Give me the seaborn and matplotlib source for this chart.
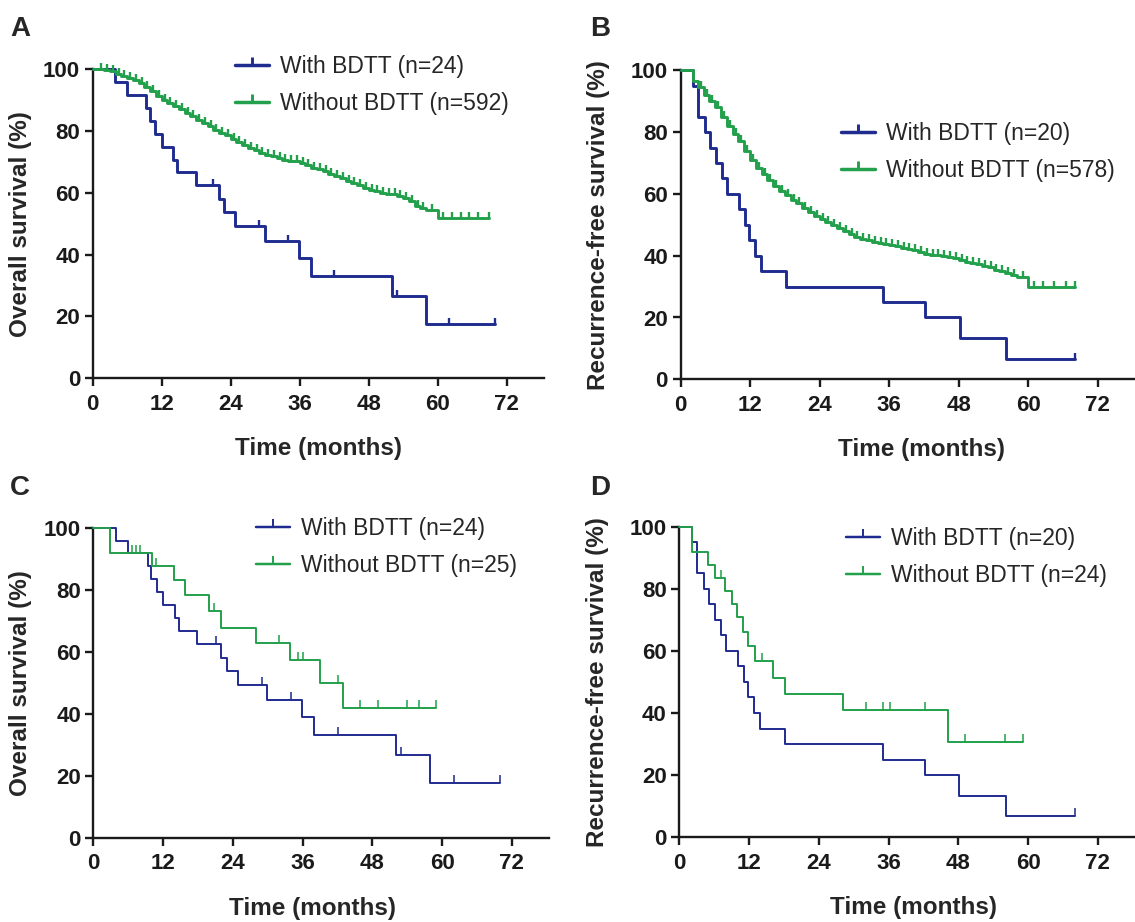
import numpy as np
import matplotlib
matplotlib.use("Agg")
import matplotlib.pyplot as plt
from matplotlib.path import Path
from matplotlib.lines import Line2D
import seaborn as sns

# ===== DATA =====
# Overall survival, with BDTT (n=24) - same group in panels A and C
os_with_t = [0, 3.8, 5.9, 9.3, 9.9, 10.9, 12.0, 14.0, 14.7, 17.9, 22.0, 22.9,
             24.8, 29.9, 35.9, 38.0, 52.0, 57.9, 70.0]
os_with_s = [100, 95.8, 91.7, 87.5, 83.3, 79.2, 75.0, 70.8, 66.7, 62.5, 58.1, 53.8,
             49.2, 44.3, 38.8, 33.2, 26.6, 17.7, 17.7]
os_with_cens = [21.0, 29.0, 34.0, 42.0, 53.0, 62.0, 70.0]

# Overall survival, without BDTT (n=592) - panel A
osA_wo_t = [0, 2, 3, 4, 5, 6, 7, 8, 9, 10, 11, 12, 13, 14, 15, 16, 17, 18, 19, 20,
            21, 22, 23, 24, 25, 26, 27, 28, 29, 30, 31, 32, 33, 34, 35, 36, 37, 38, 39, 40,
            41, 42, 43, 44, 45, 46, 47, 48, 49, 50, 51, 52, 53, 54, 55, 56, 57, 58, 60, 69]
osA_wo_s = [100, 99.7, 99.3, 98.6, 97.9, 97.3, 96.5, 95.6, 94.4, 93.0, 91.4, 90.0, 89.0, 88.0, 87.0, 86.0, 84.8, 83.7, 82.6, 81.5,
            80.5, 79.5, 78.6, 77.6, 76.6, 75.6, 74.6, 73.8, 73.0, 72.4, 71.8, 71.2, 70.8, 70.4, 70.2, 69.8, 69.0, 68.2, 67.6, 67.0,
            66.2, 65.5, 64.8, 64.0, 63.2, 62.4, 61.7, 61.0, 60.5, 60.0, 59.8, 59.5, 59.0, 58.2, 57.4, 55.8, 55.0, 54.4, 51.8, 51.8]
osA_wo_cens = [1.5, 2.5, 3.5, 4.5, 5.5, 6.5, 7.5, 8.5, 9.5, 10.5, 11.5, 12.5, 13.5, 14.5,
               15.5, 16.5, 17.5, 18.5, 19.5, 20.5, 21.5, 22.5, 23.5, 24.5, 25.5, 26.5, 27.5,
               28.5, 29.5, 30.5, 31.5, 32.5, 33.5, 34.5, 35.5, 36.5, 37.5, 38.5, 39.5, 40.5,
               41.5, 42.5, 43.5, 44.5, 45.5, 46.5, 47.5, 48.5, 49.5, 50.5, 51.5, 52.5, 53.5,
               54.5, 55.5, 56.5, 57.5, 59, 61, 62.5, 64, 65.5, 67, 69]

# Recurrence-free survival, with BDTT (n=20) - same group in panels B and D
rfs_with_t = [0, 2.2, 3.0, 4.2, 5.1, 6.2, 7.1, 8.0, 10.1, 11.1, 11.9, 12.8, 13.8,
              18.2, 35.0, 42.2, 48.2, 56.2, 68.0]
rfs_with_s = [100, 95, 85, 80, 75, 70, 65, 60, 55, 50, 45, 40, 35,
              30, 25, 20, 13.3, 6.7, 6.7]
rfs_with_cens = [68.0]

# Recurrence-free survival, without BDTT (n=578) - panel B
rfsB_wo_t = [0, 2.2, 3, 4, 5, 6, 7, 8, 9, 10, 11, 12, 13, 14, 15, 16, 17, 18, 19, 20,
             21, 22, 23, 24, 25, 26, 27, 28, 29, 30, 31, 32, 33, 34, 35, 36, 37, 38, 39, 40,
             41, 42, 43, 44, 45, 46, 47, 48, 49, 50, 51, 52, 53, 54, 55, 56, 57, 58, 60, 68]
rfsB_wo_s = [100, 96.5, 94.5, 92.0, 90.0, 88.0, 85.0, 82.0, 79.5, 77.0, 74.0, 71.0, 68.5, 66.5, 64.5, 62.5, 61.0, 59.5, 58.0, 57.0,
             55.5, 54.0, 53.0, 52.0, 51.0, 50.0, 49.0, 48.0, 47.0, 46.0, 45.5, 45.0, 44.5, 44.0, 43.7, 43.4, 43.0, 42.5, 42.2, 41.8,
             41.2, 40.6, 40.3, 40.1, 40.0, 39.6, 39.2, 38.5, 38.0, 37.5, 37.2, 36.8, 36.2, 35.5, 35.0, 34.5, 33.6, 33.2, 30.0, 30.0]
rfsB_wo_cens = [3.5, 4.5, 5.5, 6.5, 7.5, 8.5, 9.5, 10.5, 11.5, 12.5, 13.5, 14.5,
                15.5, 16.5, 17.5, 18.5, 19.5, 20.5, 21.5, 22.5, 23.5, 24.5, 25.5, 26.5, 27.5,
                28.5, 29.5, 30.5, 31.5, 32.5, 33.5, 34.5, 35.5, 36.5, 37.5, 38.5, 39.5, 40.5,
                41.5, 42.5, 43.5, 44.5, 45.5, 46.5, 47.5, 48.5, 49.5, 50.5, 51.5, 52.5, 53.5,
                54.5, 55.5, 56.5, 57.5, 59, 61, 62.5, 64.5, 66.5, 68]

# Overall survival, without BDTT (n=25) - panel C
osC_wo_t = [0, 2.8, 10.0, 13.9, 15.8, 19.9, 22.0, 27.9, 33.9, 39.0, 43.0, 59.0]
osC_wo_s = [100, 92.0, 87.6, 83.1, 78.3, 73.2, 67.8, 62.9, 57.2, 50.0, 41.7, 41.7]
osC_wo_cens = [6.6, 7.3, 8.0, 10.8, 20.8, 31.9, 35.2, 36.0, 42.1, 45.9, 49.0, 54.0, 56.0, 59.0]

# Recurrence-free survival, without BDTT (n=24) - panel D
rfsD_wo_t = [0, 2.2, 5.0, 6.2, 7.9, 9.0, 10.0, 11.0, 11.9, 13.0, 16.1, 18.2, 28.2, 46.2, 59.2]
rfsD_wo_s = [100, 91.7, 87.5, 83.3, 79.2, 75.0, 70.8, 66.2, 61.5, 56.9, 51.2, 46.2, 41.0, 30.8, 30.8]
rfsD_wo_cens = [7.1, 14.2, 32.1, 35.1, 36.2, 42.2, 49.1, 56.1, 59.2]

x_ticks = [0, 12, 24, 36, 48, 60, 72]
y_ticks = [0, 20, 40, 60, 80, 100]

BLUE = "#1f2b8f"
GREEN = "#22a04b"

# ===== STYLE =====
sns.set_style("ticks")
plt.rcParams.update({
    "font.family": ["Liberation Sans", "DejaVu Sans"],
    "axes.edgecolor": "#1a1a1a",
    "axes.linewidth": 1.7,
    "xtick.color": "#1a1a1a",
    "ytick.color": "#1a1a1a",
})

# censor mark: short vertical stroke rising from the curve
TICK = Path([(0, 0), (0, 1)])

W, H = 1135, 922
fig = plt.figure(figsize=(W / 100, H / 100), dpi=100)


def px_axes(left, right, top, bottom):
    return fig.add_axes([left / W, 1 - bottom / H, (right - left) / W, (bottom - top) / H])


def km_panel(ax, curves, lw, tick_s, ylabel, xlabel_x, ylabel_x, letter, letter_xy,
             leg_xy):
    handles = []
    for t, s, cens, color, label in curves:
        sns.lineplot(x=t, y=s, drawstyle="steps-post", color=color, lw=lw,
                     ax=ax, clip_on=False, zorder=3)
        idx = np.searchsorted(t, cens, side="right") - 1
        cy = np.asarray(s)[idx]
        sns.scatterplot(x=cens, y=cy, marker=TICK, s=tick_s, color=color,
                        edgecolor=color, linewidth=lw * 0.8, ax=ax,
                        clip_on=False, legend=False, zorder=3)
        handles.append(Line2D([], [], color=color, lw=lw + 0.4, marker=TICK,
                              markersize=12, markeredgewidth=lw, label=label))

    ax.set_xlim(0, 78.4)
    ax.set_ylim(0, 100)
    ax.set_xticks(x_ticks)
    ax.set_yticks(y_ticks)
    ax.set_xticklabels([str(v) for v in x_ticks], fontweight="bold")
    ax.set_yticklabels([str(v) for v in y_ticks], fontweight="bold")
    ax.tick_params(direction="out", length=6, width=1.7, labelsize=16, pad=3)
    ax.tick_params(axis="x", pad=5)
    sns.despine(ax=ax)

    ax.set_xlabel("Time (months)", fontsize=17.5, fontweight="bold")
    ax.set_ylabel(ylabel, fontsize=17.5, fontweight="bold")
    ax.xaxis.set_label_coords(xlabel_x, -0.19)
    ax.yaxis.set_label_coords(ylabel_x, 0.5)

    fig.text(letter_xy[0] / W, 1 - letter_xy[1] / H, letter, fontsize=20,
             fontweight="bold", ha="left", va="top")

    ax.legend(handles=handles, loc="upper left",
              bbox_to_anchor=(leg_xy[0] / W, 1 - leg_xy[1] / H),
              bbox_transform=fig.transFigure, frameon=False,
              prop={"size": 16.5, "weight": "normal"}, handlelength=1.5,
              handletextpad=0.45, labelspacing=0.62, borderpad=0,
              borderaxespad=0)


axA = px_axes(92.7, 543.5, 69.3, 378.3)
km_panel(axA,
         [(os_with_t, os_with_s, os_with_cens, BLUE, "With BDTT (n=24)"),
          (osA_wo_t, osA_wo_s, osA_wo_cens, GREEN, "Without BDTT (n=592)")],
         lw=2.1, tick_s=70, ylabel="Overall survival (%)", xlabel_x=0.5,
         ylabel_x=-0.135, letter="A", letter_xy=(10, 16), leg_xy=(235, 55))

axB = px_axes(680.5, 1135, 70.3, 379.3)
km_panel(axB,
         [(rfs_with_t, rfs_with_s, rfs_with_cens, BLUE, "With BDTT (n=20)"),
          (rfsB_wo_t, rfsB_wo_s, rfsB_wo_cens, GREEN, "Without BDTT (n=578)")],
         lw=2.1, tick_s=70, ylabel="Recurrence-free survival (%)", xlabel_x=0.53,
         ylabel_x=-0.155, letter="B", letter_xy=(590, 16), leg_xy=(841, 122))

axC = px_axes(93.5, 549, 527.7, 837.7)
km_panel(axC,
         [(os_with_t, os_with_s, os_with_cens, BLUE, "With BDTT (n=24)"),
          (osC_wo_t, osC_wo_s, osC_wo_cens, GREEN, "Without BDTT (n=25)")],
         lw=1.4, tick_s=120, ylabel="Overall survival (%)", xlabel_x=0.48,
         ylabel_x=-0.135, letter="C", letter_xy=(10, 475), leg_xy=(256, 517))

axD = px_axes(679.3, 1135, 526.6, 837.3)
km_panel(axD,
         [(rfs_with_t, rfs_with_s, rfs_with_cens, BLUE, "With BDTT (n=20)"),
          (rfsD_wo_t, rfsD_wo_s, rfsD_wo_cens, GREEN, "Without BDTT (n=24)")],
         lw=1.4, tick_s=120, ylabel="Recurrence-free survival (%)", xlabel_x=0.515,
         ylabel_x=-0.155, letter="D", letter_xy=(590, 475), leg_xy=(846, 527))

fig.savefig("out.png", dpi=100)
